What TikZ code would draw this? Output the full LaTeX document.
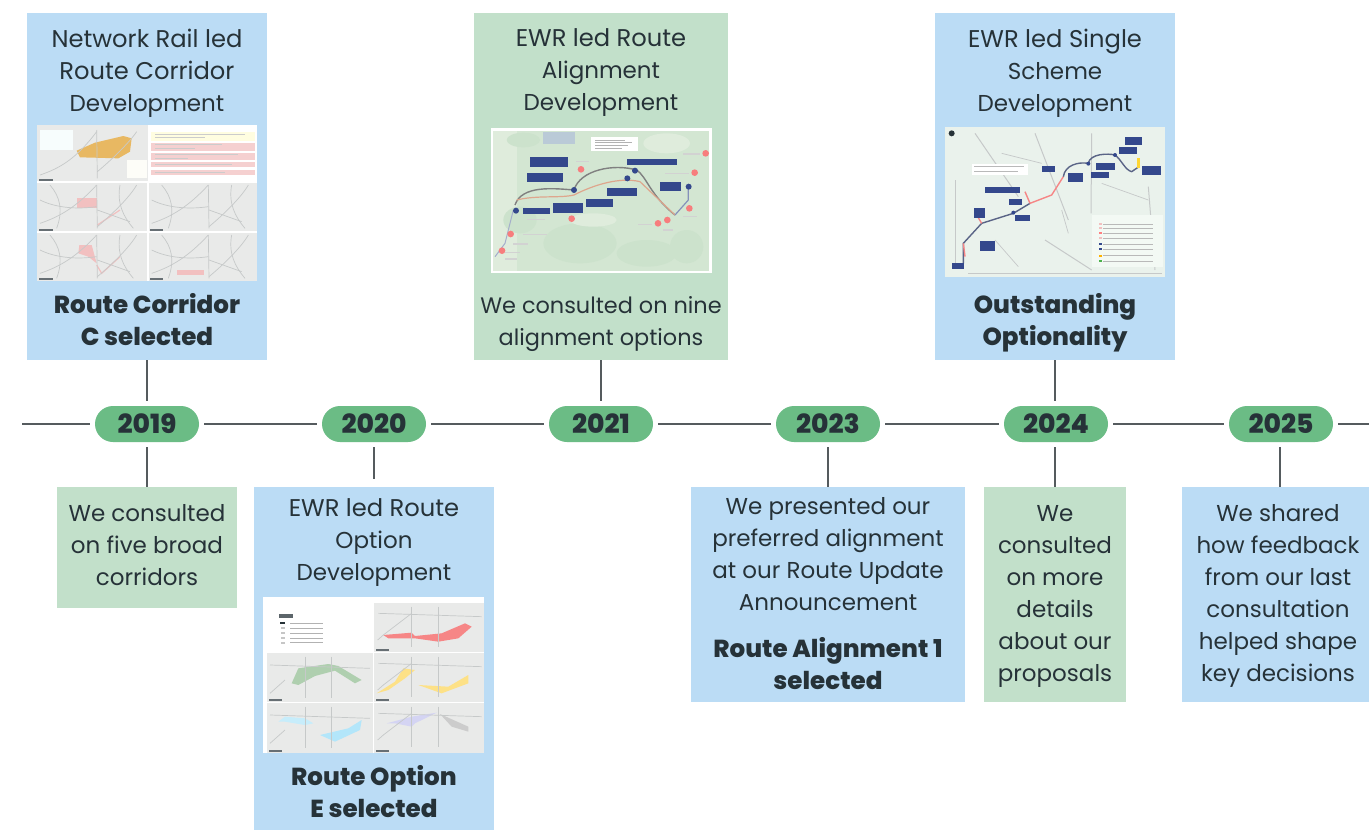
\documentclass[tikz,border=0pt]{standalone}
\usepackage{fontspec}
\setmainfont{Poppins}[BoldFont={Poppins ExtraBold}]
\definecolor{boxblue}{HTML}{BBDCF5}
\definecolor{boxgreen}{HTML}{C2E0CA}
\definecolor{pillgreen}{HTML}{6BBC85}
\definecolor{ink}{HTML}{263238}
\definecolor{linegrey}{HTML}{555B5E}
\definecolor{navy}{HTML}{34488C}
\definecolor{panel}{HTML}{E9EAE9}
\definecolor{mapline}{HTML}{C6C9C9}
\definecolor{pinkz}{HTML}{F2C0C0}
\definecolor{mapgreen}{HTML}{D3E6D2}
\definecolor{mapgreenb}{HTML}{CCE2CC}
\definecolor{mapgreenc}{HTML}{DFECDC}
\definecolor{maporange}{HTML}{E8B862}
\tikzset{
  x=1pt,y=-1pt,
  panelbox/.style={draw=none,inner sep=0pt,outer sep=0pt,anchor=north west},
  bluebox/.style={panelbox,fill=boxblue},
  greenbox/.style={panelbox,fill=boxgreen},
  copy/.style={text=ink,align=center,font=\fontsize{23}{32}\selectfont,inner sep=0pt,anchor=center},
  strong/.style={text=ink,align=center,font=\fontsize{24.6}{32}\selectfont\bfseries,inner sep=0pt,anchor=center},
  pill/.style={rounded rectangle,fill=pillgreen,text=ink,minimum width=104pt,minimum height=36pt,inner sep=0pt,font=\fontsize{26.5}{28}\selectfont\bfseries},
  stem/.style={draw=linegrey,line width=2pt},
  road/.style={draw=mapline,line width=.7pt},
  navybox/.style={fill=navy},
}
\usetikzlibrary{shapes.misc}
\newcommand{\boxat}[6]{\node[#1,minimum width=#4pt,minimum height=#5pt] (#6) at (#2,#3) {};}
\newcommand{\wide}[1]{{\fontsize{24.2}{32}\selectfont #1}}
\newcommand{\narrow}[1]{{\fontsize{22.4}{32}\selectfont #1}}
\newcommand{\roadset}{%
  \draw[road] (60,340) .. controls (120,320) and (170,290) .. (230,225);
  \draw[road] (230,225) -- (232,355);
  \draw[road] (232,350) .. controls (280,310) and (330,260) .. (350,225);
  \draw[road] (60,270) .. controls (100,290) and (160,300) .. (230,290);
  \draw[road] (90,225) .. controls (120,260) and (130,300) .. (110,355);
  \draw[road] (232,300) -- (330,335);
  \draw[road] (300,225) .. controls (290,280) and (310,320) .. (340,355);
}
\begin{document}
\begin{tikzpicture}
\useasboundingbox (0,0) rectangle (1369,830);
\fill[white] (0,0) rectangle (1369,830);
% boxes
\boxat{bluebox}{27}{13}{240}{347}{a1}
\boxat{greenbox}{474}{13}{254}{347}{a2}
\boxat{bluebox}{935}{13}{240}{347}{a3}
\boxat{greenbox}{57}{487}{180}{121}{b1}
\boxat{bluebox}{254}{487}{240}{343}{b2}
\boxat{bluebox}{691}{487}{274}{215}{b3}
\boxat{greenbox}{984}{487}{142}{215}{b4}
\boxat{bluebox}{1182}{487}{187}{215}{b5}
% pills
\node[pill] (p19) at (147,424) {2019};
\node[pill] (p20) at (374,424) {2020};
\node[pill] (p21) at (601,424) {2021};
\node[pill] (p23) at (828,424) {2023};
\node[pill] (p24) at (1056,424) {2024};
\node[pill] (p25) at (1281,424) {2025};
% timeline
\coordinate (tl) at (22,424);
\coordinate (tr) at (1369,424);
\coordinate (b2top) at (374,479);
\draw[stem] (tl) -- ([xshift=-5pt]p19.west);
\draw[stem] ([xshift=5pt]p19.east) -- ([xshift=-5pt]p20.west);
\draw[stem] ([xshift=5pt]p20.east) -- ([xshift=-5pt]p21.west);
\draw[stem] ([xshift=5pt]p21.east) -- ([xshift=-5pt]p23.west);
\draw[stem] ([xshift=5pt]p23.east) -- ([xshift=-5pt]p24.west);
\draw[stem] ([xshift=5pt]p24.east) -- ([xshift=-5pt]p25.west);
\draw[stem] ([xshift=5pt]p25.east) -- (tr);
% stems
\draw[stem] (a1.south) -- ([yshift=5pt]p19.north);
\draw[stem] (a2.south) -- ([yshift=5pt]p21.north);
\draw[stem] (a3.south) -- ([yshift=5pt]p24.north-|a3.south);
\draw[stem] ([yshift=-5pt]p19.south) -- (b1.north);
\draw[stem] ([yshift=-5pt]p20.south) -- (b2top);
\draw[stem] ([yshift=-5pt]p23.south) -- (b3.north-|p23.south);
\draw[stem] ([yshift=-5pt]p24.south-|b4.north) -- (b4.north);
\draw[stem] ([yshift=-5pt]p25.south-|1280,0) -- (1280,487);
% texts
\node[copy] (t1) at (147,73) {\wide{Network Rail led}\\\wide{Route Corridor}\\Development};
\node[strong] (t1b) at (147,320) {Route Corridor\\C selected};
\node[copy] (t2) at (601,73) {\wide{EWR led Route}\\Alignment\\Development};
\node[copy] (t2b) at (601,324) {\narrow{We consulted on nine}\\\narrow{alignment options}};
\node[copy] (t3) at (1055,73) {\wide{EWR led Single}\\Scheme\\Development};
\node[strong] (t3b) at (1055,323) {Outstanding\\Optionality};
\node[copy] (t4) at (147,545) {We consulted\\on five broad\\corridors};
\node[copy] (t5) at (374,543) {\wide{EWR led Route}\\Option\\Development};
\node[strong] (t5b) at (374,792) {Route Option\\E selected};
\node[copy] (t6) at (828,554) {We presented our\\preferred alignment\\at our Route Update\\Announcement};
\node[strong] (t6b) at (828,664) {Route Alignment 1\\selected};
\node[copy] (t7) at (1055,596) {We\\consulted\\on more\\details\\about our\\proposals};
\node[copy] (t8) at (1278,596) {We shared\\how feedback\\from our last\\consultation\\helped shape\\key decisions};
% map 1
\begin{scope}[shift={(20,110)},scale=1/3]
\fill[white] (50,45) rectangle (710,512);
\fill[panel] (50,45) rectangle (385,212);
\fill[panel] (50,218) rectangle (382,362);
\fill[panel] (386,218) rectangle (710,362);
\fill[panel] (50,368) rectangle (382,512);
\fill[panel] (386,368) rectangle (710,512);
\fill[panel!80!cyan!12!white] (60,60) rectangle (160,120);
\fill[panel!85!yellow!12!white] (320,150) rectangle (380,205);
\fill[maporange] (170,122) -- (225,98) -- (310,78) -- (335,85) -- (330,125) -- (295,145) -- (180,142) -- cycle;
\fill[yellow!12!white] (392,65) rectangle (704,92);
\foreach \a/\b in {98/122,128/150,156/172,180/196}{\fill[pinkz!75!white] (392,\a) rectangle (704,\b);}
\foreach \a/\w in {72/270,82/150,104/200,114/120,134/250,144/100,164/230,187/210}{\fill[gray!40] (405,\a-1) rectangle +(\w,2);}
\fill[pinkz] (172,265) rectangle (232,295);
\fill[pinkz] (178,405) -- (215,405) -- (230,460) -- (205,440) -- (175,430) -- cycle;
\fill[pinkz] (472,480) rectangle (552,496);
\draw[pinkz,line width=1.2pt] (230,465) -- (245,490) -- (300,440);
\draw[pinkz,line width=1.2pt] (232,345) -- (300,300);
\foreach \dx/\dy in {0/0,335/0,0/150,335/150}{
  \begin{scope}[shift={(\dx,\dy)}]
  \roadset
  \end{scope}}
\begin{scope}[shift={(0,-165)}]
\draw[road] (60,360) .. controls (120,340) and (170,310) .. (230,230);
\draw[road] (230,225) -- (232,370);
\draw[road] (232,350) .. controls (280,310) and (330,260) .. (350,230);
\end{scope}
\foreach \x/\y in {58/208,58/358,390/358,58/505,390/505}{\fill[ink!70!white] (\x,\y) rectangle +(40,4);}
\end{scope}
% map 2
\begin{scope}[shift={(480,120)},scale=1/3]
\fill[white] (32,25) rectangle (695,460);
\fill[mapgreen] (40,33) rectangle (688,453);
\fill[mapgreenc] (40,33) rectangle (110,453);
\fill[mapgreenb] (120,300) ellipse (50 and 40);
\fill[mapgreenb] (300,370) ellipse (110 and 60);
\fill[mapgreenb] (500,400) ellipse (90 and 40);
\fill[mapgreenb] (620,380) ellipse (50 and 50);
\fill[mapgreenb] (130,60) ellipse (50 and 22);
\fill[mapgreenc] (560,70) ellipse (70 and 30);
\fill[mapgreenc] (340,300) ellipse (70 and 20);
\fill[blue!12!mapgreen] (190,36) rectangle (285,72);
\fill[white] (332,52) rectangle (475,94);
\foreach \a/\w in {60/90,68/110,76/100,85/80}{\fill[gray!60] (345,\a-1) rectangle +(\w,2);}
\draw[gray,line width=1.4pt] (105,255) .. controls (125,195) and (220,205) .. (282,210) .. controls (300,150) and (400,130) .. (470,150) .. controls (500,170) and (510,225) .. (585,285);
\draw[pinkz!60!brown,line width=1.2pt] (110,240) .. controls (170,225) and (240,235) .. (282,225) .. controls (340,195) and (420,170) .. (480,185) -- (585,285);
\draw[navy!60!white,line width=1.2pt] (585,285) -- (625,240) -- (625,205);
\draw[navy!45!white,line width=1pt] (100,270) -- (75,370) -- (45,410);
\foreach \x/\y/\w/\h in {150/112/115/28,140/158/108/28,130/263/80/20,220/250/90/28,318/236/82/24,380/205/90/24,440/117/150/18,540/186/62/26}{\fill[navy] (\x,\y) rectangle +(\w,\h);}
\foreach \x/\y in {108/272,282/210,465/152,442/175,626/200}{\fill[navy] (\x,\y) circle (9);}
\foreach \x/\y in {677/100,644/158,628/265,562/300,534/310,275/296,303/148,92/342,66/392}{\fill[red!35!pinkz] (\x,\y) circle (10);}
\foreach \x/\y/\w in {608/100/52,556/158/72,610/288/40,475/312/40,550/328/28,130/342/70,100/370/45,75/395/45,75/415/35,288/122/40,140/296/55}{\fill[white!65!gray] (\x,\y) rectangle +(\w,4);}
\end{scope}
% map 3
\begin{scope}[shift={(935,120)},scale=1/3]
\fill[black!5!boxgreen!30!white] (30,22) rectangle (690,472);
\draw[road,line width=1pt] (120,40) -- (250,230);
\draw[road,line width=1pt] (300,40) -- (400,300);
\draw[road,line width=1pt] (470,40) -- (468,280);
\draw[road,line width=1pt] (330,360) -- (470,450);
\draw[road,line width=1pt] (60,180) -- (60,440);
\draw[road,line width=1pt] (640,200) -- (660,450);
\draw[road] (180,360) -- (250,440);
\draw[road] (100,460) -- (680,460);
\draw[road] (200,100) -- (320,130);
\draw[road] (380,270) -- (400,340);
\draw[road] (500,190) -- (640,240);
\fill[white] (110,132) rectangle (280,165);
\foreach \a/\w in {140/150,155/130}{\fill[gray!55] (118,\a-1) rectangle +(\w,2);}
\fill[white!80!boxgreen] (470,285) rectangle (685,440);
\draw[navy!50!gray,line width=1.4pt] (85,430) -- (85,370) -- (140,310) -- (235,280) -- (285,250);
\draw[pinkz!70!red,line width=1.4pt] (285,250) -- (350,225) -- (385,170);
\draw[navy!50!gray,line width=1.4pt] (385,170) .. controls (390,135) and (430,125) .. (460,130) .. controls (465,100) and (520,100) .. (540,105) .. controls (560,120) and (570,150) .. (590,155) -- (612,140);
\draw[pinkz!70!red,line width=1.4pt] (85,370) -- (90,410);
\draw[pinkz!70!red,line width=1.4pt] (140,310) -- (125,285);
\draw[pinkz!70!red,line width=1.4pt] (285,250) -- (270,215);
\fill[orange!40!yellow!80!white] (605,115) rectangle (614,145);
\foreach \x/\y/\w/\h in {52/430/36/18,117/264/32/30,135/362/44/30,150/202/104/18,222/238/40/18,240/286/44/18,322/138/38/18,400/158/44/28,482/130/58/20,468/155/54/18,552/82/55/20,570/50/52/26,622/138/56/26}{\fill[navy] (\x,\y) rectangle +(\w,\h);}
\foreach \x/\y in {235/278,460/131,540/105}{\fill[navy] (\x,\y) circle (6);}
\fill[ink] (50,40) circle (9);
\foreach \y/\c in {312/pinkz,325/pinkz,340/red!50!white,355/pinkz,372/navy,387/navy,407/orange!60!yellow,423/green!40!gray}{
  \fill[\c] (492,\y-3) rectangle +(8,6);
  \fill[gray!55] (505,\y-1.5) rectangle +(150,3);}
\end{scope}
% map 4
\begin{scope}[shift={(255,590)},scale=1/3]
\fill[white] (25,22) rectangle (688,490);
\fill[panel] (358,38) rectangle (688,185);
\fill[panel] (35,188) rectangle (355,335);
\fill[panel] (358,188) rectangle (688,335);
\fill[panel] (35,338) rectangle (355,490);
\fill[panel] (358,338) rectangle (688,490);
\fill[ink!75!white] (72,72) rectangle (115,85);
\fill[ink] (76,95) rectangle +(14,8);
\foreach \y in {99,114,129,144,158}{\fill[gray!60] (105,\y-1.5) rectangle +(100,3);}
\foreach \y in {114,129,144,158}{\fill[gray!45] (78,\y-3) rectangle +(12,6);}
\fill[red!30!pinkz] (385,135) -- (470,128) -- (480,138) -- (560,130) -- (630,100) -- (650,110) -- (610,145) -- (550,155) -- (480,145) -- (400,145) -- cycle;
\fill[green!25!gray!50!white] (110,280) -- (130,235) -- (220,222) -- (250,228) -- (320,270) -- (300,280) -- (240,242) -- (180,258) -- (130,285) -- cycle;
\fill[yellow!55!orange!45!white] (365,310) -- (420,275) -- (445,235) -- (480,240) -- (450,265) -- (400,300) -- cycle;
\fill[yellow!55!orange!45!white] (490,285) -- (580,290) -- (640,255) -- (640,280) -- (560,310) -- cycle;
\fill[cyan!22!white] (70,395) -- (90,380) -- (150,385) -- (175,400) -- (150,405) -- (90,395) -- cycle;
\fill[cyan!30!white] (195,435) -- (280,415) -- (320,390) -- (315,420) -- (240,455) -- cycle;
\fill[gray!45!blue!22!white] (395,400) -- (470,380) -- (545,368) -- (480,400) -- (470,410) -- (420,400) -- cycle;
\fill[gray!40] (555,372) -- (640,410) -- (640,425) -- (590,410) -- cycle;
\foreach \dy in {0,150,300}{\draw[road] (368,\dy+150) -- (385,\dy+135) -- (470,\dy+70);
  \draw[road] (470,\dy+50) -- (470,\dy+170);\draw[road] (550,\dy+50) -- (550,\dy+170);
  \draw[road] (370,\dy+70) -- (680,\dy+80);}
\foreach \dy in {0,150}{\draw[road] (45,\dy+310) -- (90,\dy+270);
  \draw[road] (150,\dy+200) -- (150,\dy+325);\draw[road] (230,\dy+200) -- (230,\dy+325);
  \draw[road] (45,\dy+225) -- (345,\dy+235);}
\foreach \x/\y in {42/327,42/480,362/178,362/327,362/480}{\fill[ink!70!white] (\x,\y) rectangle +(40,5);}
\end{scope}
\end{tikzpicture}
\end{document}
